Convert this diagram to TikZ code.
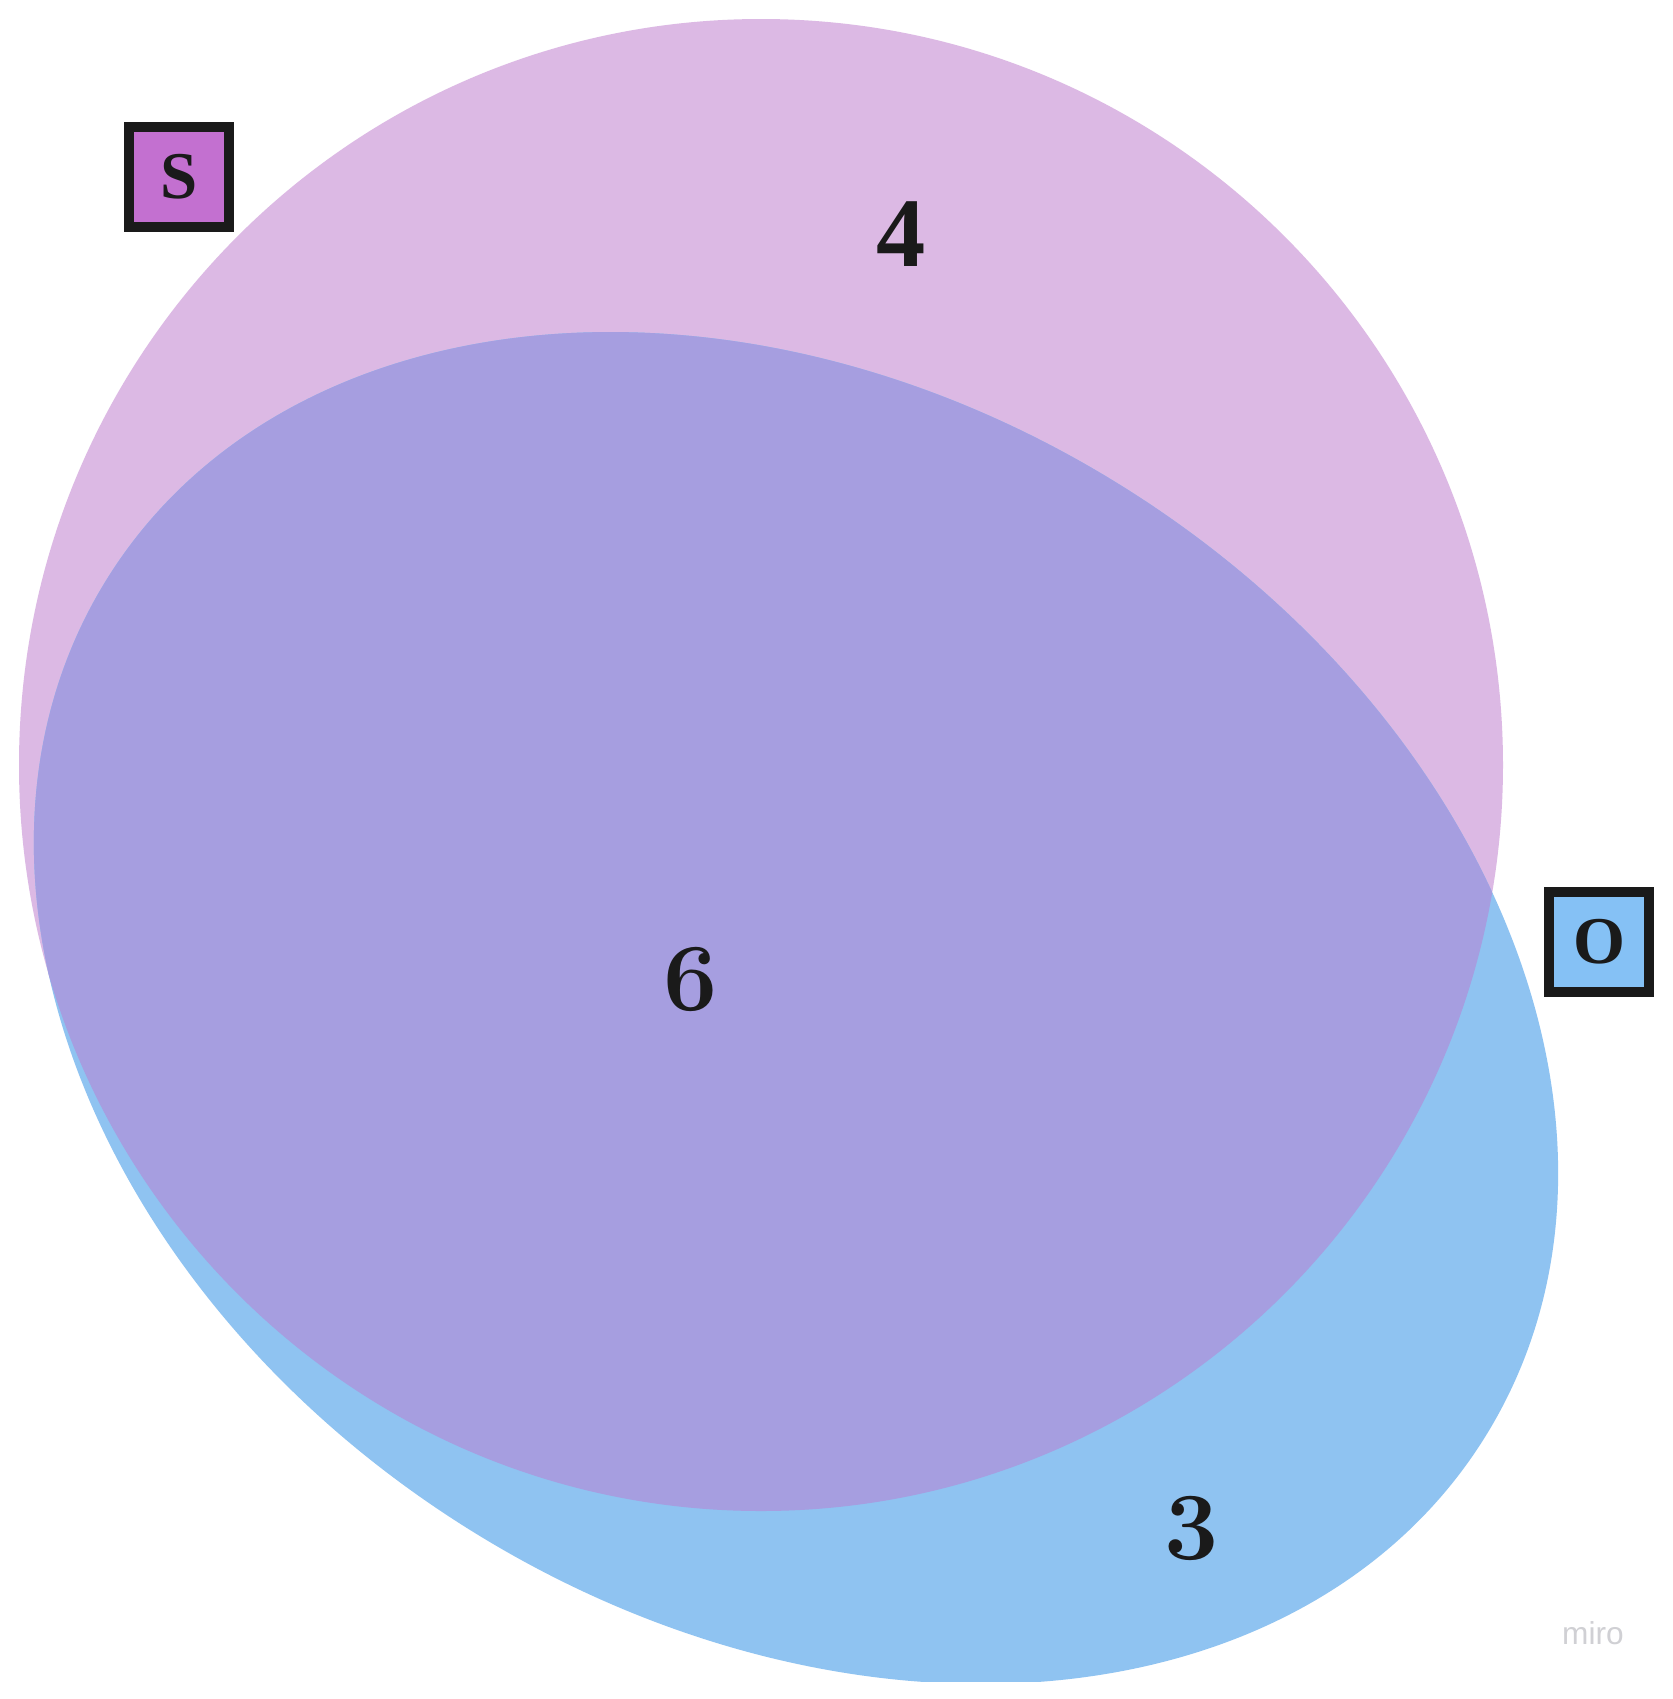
\documentclass[tikz,border=0pt]{standalone}
\usepackage{fontspec}
\newfontfamily\wmfont{Liberation Sans}
\newfontfamily\lserif{Liberation Serif}
\definecolor{pinkS}{RGB}{220,185,228}
\definecolor{blueO}{RGB}{143,195,241}
\definecolor{overlap}{RGB}{166,158,224}
\definecolor{boxS}{RGB}{195,112,208}
\definecolor{boxO}{RGB}{133,193,245}
\definecolor{ink}{RGB}{26,26,26}
\definecolor{wm}{RGB}{208,208,212}
\tikzset{
  setbox/.style={draw=ink, line width=0.1cm, minimum size=1cm, inner sep=0pt, text=ink,
    font=\lserif\fontsize{19}{20}\selectfont\bfseries},
  countlbl/.style={text=ink, inner sep=0pt, font=\fontsize{27.4}{30}\selectfont\bfseries}
}
\begin{document}
\begin{tikzpicture}[x=0.01cm,y=-0.01cm]
\useasboundingbox (0,0) rectangle (1673,1699);
\fill[white] (0,0) rectangle (1673,1699);
% pink set S
\fill[pinkS] (761,765) ellipse [x radius=742, y radius=746];
% blue set O
\begin{scope}
  \clip (0,0) rectangle (1673,1681);
  \begin{scope}[shift={(796,1008)}, rotate=-31.9]
    \fill[blueO] (0,0) ellipse [x radius=811.7, y radius=615.4];
  \end{scope}
  % overlap
  \clip (761,765) ellipse [x radius=742, y radius=746];
  \begin{scope}[shift={(796,1008)}, rotate=-31.9]
    \fill[overlap] (0,0) ellipse [x radius=811.7, y radius=615.4];
  \end{scope}
\end{scope}
% labels
\node[setbox, fill=boxS] (S) at (179,177) {S};
\node[setbox, fill=boxO] (O) at (1599,942) {O};
\node[countlbl, font=\lserif\fontsize{28}{30}\selectfont\bfseries] (n4) at (901,234) {4};
\node[countlbl] (n6) at (691,979) {6};
\node[countlbl] (n3) at (1192,1528) {3};
\node[text=wm, inner sep=0pt, font=\wmfont\fontsize{9}{10}\selectfont] (wm) at (1593,1633) {miro};
\end{tikzpicture}
\end{document}
